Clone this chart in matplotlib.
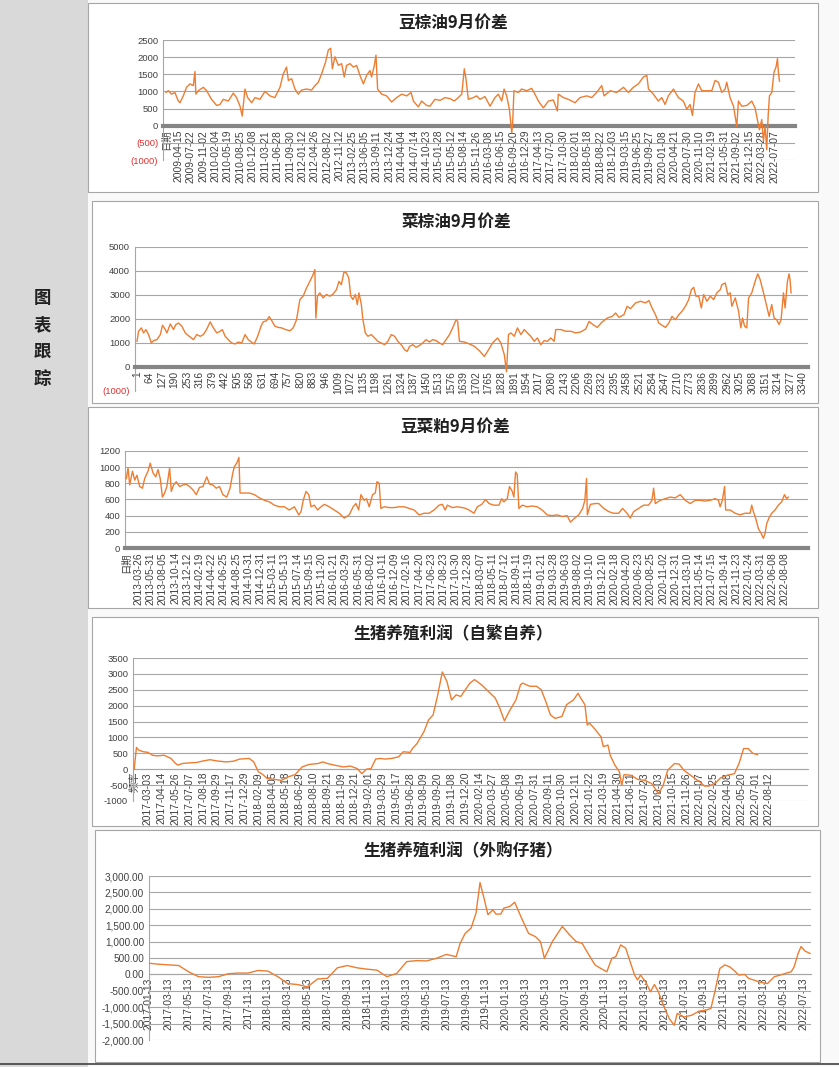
import matplotlib
matplotlib.use("Agg")
import matplotlib.pyplot as plt
from matplotlib.patches import Rectangle
from matplotlib.lines import Line2D

plt.rcParams["font.family"] = ["Liberation Sans", "Noto Sans CJK SC"]

W, H = 839, 1067
ORANGE = "#ed7d31"
GRID = "#a6a6a6"
RED = "#e03030"
CJK = ["Noto Sans CJK SC"]

# ---------------- 豆棕油9月价差 (category index, value)
p1_x = [0, 13, 31, 49, 68, 77, 95, 113, 132, 150, 159, 164, 177, 205, 223, 250, 278, 296, 314, 342,
        369, 387, 406, 418, 433, 448, 470, 488, 515, 543, 570, 597, 625, 643, 661, 671, 689, 707, 725, 744,
        771, 798, 817, 835, 853, 875, 890, 903, 912, 926, 945, 963, 977, 990, 1009, 1027, 1045, 1063, 1082, 1100,
        1118, 1127, 1142, 1151, 1160, 1182, 1209, 1237, 1264, 1292, 1319, 1343, 1356, 1383, 1401, 1429, 1447, 1474, 1502, 1529,
        1557, 1580, 1602, 1621, 1635, 1644, 1657, 1684, 1703, 1721, 1748, 1776, 1803, 1821, 1840, 1853, 1867, 1882, 1895, 1900,
        1907, 1931, 1949, 1977, 2004, 2022, 2041, 2068, 2096, 2123, 2145, 2150, 2178, 2205, 2242, 2269, 2306, 2333, 2360, 2388,
        2401, 2434, 2470, 2507, 2534, 2561, 2589, 2616, 2635, 2644, 2671, 2698, 2717, 2735, 2753, 2781, 2808, 2835, 2854, 2872,
        2885, 2899, 2918, 2936, 2963, 2991, 3009, 3027, 3046, 3064, 3073, 3091, 3110, 3128, 3137, 3155, 3183, 3210, 3228, 3237,
        3252, 3265, 3274, 3283, 3292, 3300, 3307, 3320, 3332, 3343, 3351, 3356, 3362]
p1_y = [970, 1020, 920, 970, 720, 670, 870, 1120, 1220, 1170, 1580, 920, 1020, 1120, 1020, 770, 590, 620, 770, 720,
        950, 820, 570, 280, 1070, 820, 670, 820, 770, 1000, 870, 820, 1120, 1510, 1710, 1320, 1370, 1070, 920, 1040,
        1070, 1040, 1170, 1270, 1510, 1860, 2210, 2260, 1660, 2010, 1760, 1810, 1420, 1760, 1810, 1710, 1760, 1470, 1220, 1470,
        1610, 1420, 1760, 2060, 1070, 920, 870, 690, 820, 920, 870, 970, 720, 550, 720, 590, 570, 770, 740, 820,
        790, 720, 820, 920, 1660, 1370, 770, 820, 870, 770, 850, 570, 820, 920, 720, 1070, 870, 480, -200, 80,
        1020, 970, 1070, 1020, 1090, 920, 720, 520, 720, 750, 430, 920, 820, 770, 670, 820, 870, 820, 970, 1170,
        870, 1020, 970, 1120, 970, 1120, 1220, 1420, 1470, 1070, 920, 720, 820, 620, 870, 1070, 820, 720, 480, 620,
        300, 970, 1220, 1020, 1020, 1020, 1320, 1270, 970, 1070, 1270, 820, 570, -20, 720, 570, 590, 720, 520, 280,
        -120, 180, -450, -20, -700, 300, 870, 970, 1560, 1710, 1960, 1560, 1300]
p1_labels = ["日期", "2009-04-15", "2009-07-22", "2009-11-02", "2010-02-04", "2010-05-19", "2010-08-25",
             "2010-12-08", "2011-03-21", "2011-06-28", "2011-09-30", "2012-01-12", "2012-04-26", "2012-08-02",
             "2012-11-12", "2013-02-25", "2013-06-05", "2013-09-11", "2013-12-24", "2014-04-04", "2014-07-14",
             "2014-10-23", "2015-01-28", "2015-05-12", "2015-08-14", "2015-11-26", "2016-03-08", "2016-06-15",
             "2016-09-20", "2016-12-29", "2017-04-13", "2017-07-20", "2017-10-30", "2018-02-01", "2018-05-18",
             "2018-08-22", "2018-12-03", "2019-03-15", "2019-06-25", "2019-09-27", "2020-01-08", "2020-04-21",
             "2020-07-30", "2020-11-10", "2021-02-19", "2021-05-31", "2021-09-02", "2021-12-15", "2022-03-28",
             "2022-07-07"]
p1_step = 68
p1_yticks = [-1000, -500, 0, 500, 1000, 1500, 2000, 2500]
p1_ylabels = ["(1000)", "(500)", "0", "500", "1000", "1500", "2000", "2500"]

# ---------------- 菜棕油9月价差
p2_x = [0, 8, 22, 33, 45, 58, 72, 83, 100, 117, 128, 142, 150, 167, 183, 195, 208, 225, 242, 262,
        283, 300, 317, 333, 350, 367, 383, 400, 417, 428, 442, 458, 475, 492, 508, 525, 542, 558, 575, 588,
        605, 622, 633, 650, 663, 678, 692, 708, 725, 745, 767, 783, 800, 817, 833, 850, 867, 883, 892, 897,
        905, 917, 933, 950, 967, 983, 1000, 1013, 1025, 1038, 1050, 1062, 1072, 1083, 1095, 1105, 1113, 1125, 1133, 1145,
        1158, 1175, 1192, 1208, 1225, 1242, 1258, 1275, 1292, 1308, 1325, 1342, 1355, 1367, 1383, 1400, 1417, 1433, 1450, 1467,
        1483, 1500, 1517, 1533, 1550, 1567, 1583, 1600, 1608, 1617, 1642, 1667, 1692, 1717, 1742, 1758, 1783, 1808, 1825, 1842,
        1853, 1863, 1875, 1892, 1908, 1925, 1942, 1958, 1975, 1992, 2008, 2025, 2042, 2058, 2075, 2092, 2100, 2125, 2150, 2175,
        2200, 2225, 2250, 2267, 2283, 2308, 2333, 2358, 2383, 2400, 2417, 2442, 2458, 2475, 2500, 2525, 2550, 2567, 2583, 2600,
        2617, 2633, 2650, 2667, 2683, 2700, 2717, 2733, 2750, 2767, 2780, 2792, 2803, 2817, 2830, 2842, 2858, 2875, 2892, 2908,
        2925, 2933, 2950, 2963, 2975, 2983, 3000, 3017, 3028, 3037, 3047, 3058, 3067, 3083, 3100, 3113, 3125, 3142, 3158, 3170,
        3183, 3195, 3208, 3220, 3230, 3242, 3250, 3262, 3270, 3275, 3280]
p2_y = [1070, 1490, 1630, 1420, 1560, 1350, 1000, 1100, 1140, 1350, 1740, 1560, 1420, 1790, 1560, 1770, 1830, 1700, 1420, 1280,
        1140, 1350, 1280, 1350, 1580, 1880, 1630, 1420, 1490, 1560, 1280, 1140, 1000, 960, 1040, 1000, 1350, 1140, 1030, 960,
        1280, 1700, 1880, 1930, 2100, 1900, 1700, 1650, 1630, 1560, 1510, 1630, 1970, 2810, 2950, 3290, 3570, 3850, 4060, 2040,
        2950, 3090, 2880, 3020, 2950, 3040, 3220, 3570, 3430, 3960, 3920, 3710, 2950, 2810, 3020, 2600, 3090, 2600, 1970, 1420,
        1280, 1350, 1210, 1070, 1000, 930, 1070, 1350, 1280, 1070, 930, 720, 650, 860, 930, 820, 900, 1000, 1140, 1040,
        1140, 1100, 1000, 930, 1140, 1350, 1630, 1970, 1900, 1070, 1040, 960, 860, 680, 440, 650, 1000, 1210, 1000, 510,
        -200, 1350, 1420, 1280, 1630, 1350, 1560, 1420, 1280, 1070, 1210, 930, 1100, 1070, 1210, 1070, 1560, 1560, 1490, 1490,
        1420, 1460, 1580, 1900, 1790, 1650, 1880, 2040, 2110, 2250, 2070, 2180, 2530, 2430, 2670, 2740, 2670, 2770, 2460, 2180,
        1830, 1740, 1650, 1830, 2110, 1970, 2180, 2320, 2530, 2810, 3220, 3320, 2950, 2950, 2460, 3020, 2740, 2950, 2810, 3090,
        3220, 3430, 3500, 3020, 3090, 2530, 2880, 2320, 1630, 2040, 1700, 1630, 2880, 3090, 3570, 3880, 3640, 3090, 2530, 2110,
        2600, 2040, 1970, 1770, 1970, 3090, 2460, 3570, 3880, 3640, 3090]
p2_labels = [1, 64, 127, 190, 253, 316, 379, 442, 505, 568, 631, 694, 757, 820, 883, 946, 1009, 1072,
             1135, 1198, 1261, 1324, 1387, 1450, 1513, 1576, 1639, 1702, 1765, 1828, 1891, 1954, 2017, 2080,
             2143, 2206, 2269, 2332, 2395, 2458, 2521, 2584, 2647, 2710, 2773, 2836, 2899, 2962, 3025, 3088,
             3151, 3214, 3277, 3340]
p2_yticks = [-1000, 0, 1000, 2000, 3000, 4000, 5000]
p2_ylabels = ["(1000)", "0", "1000", "2000", "3000", "4000", "5000"]

# ---------------- 豆菜粕9月价差
p3_x = [0, 6, 12, 22, 30, 38, 48, 58, 66, 78, 86, 96, 106, 114, 122, 130, 138, 146, 156, 162,
        170, 180, 192, 204, 216, 228, 240, 252, 264, 276, 290, 300, 312, 324, 336, 348, 362, 374, 384, 390,
        398, 406, 410, 426, 444, 462, 480, 498, 516, 534, 552, 570, 588, 606, 622, 630, 638, 648, 658, 666,
        678, 690, 702, 714, 732, 750, 768, 786, 804, 818, 828, 838, 846, 858, 866, 876, 888, 898, 904, 912,
        918, 930, 948, 966, 984, 1002, 1020, 1038, 1056, 1074, 1092, 1110, 1128, 1140, 1150, 1158, 1176, 1194, 1212, 1224,
        1236, 1254, 1266, 1282, 1296, 1308, 1326, 1344, 1354, 1362, 1374, 1382, 1392, 1398, 1404, 1410, 1416, 1428, 1446, 1464,
        1482, 1500, 1518, 1536, 1554, 1572, 1590, 1602, 1614, 1632, 1646, 1654, 1660, 1663, 1674, 1692, 1704, 1722, 1740, 1758,
        1776, 1790, 1806, 1818, 1830, 1848, 1866, 1884, 1896, 1902, 1908, 1926, 1944, 1962, 1980, 1998, 2016, 2034, 2052, 2070,
        2088, 2106, 2124, 2136, 2142, 2150, 2158, 2162, 2178, 2196, 2214, 2232, 2250, 2256, 2262, 2270, 2280, 2290, 2298, 2304,
        2310, 2318, 2328, 2340, 2352, 2364, 2374, 2382, 2388]
p3_y = [860, 990, 780, 950, 840, 900, 760, 740, 860, 950, 1050, 930, 880, 970, 860, 630, 680, 760, 990, 700,
        780, 820, 760, 780, 790, 760, 720, 660, 750, 760, 880, 790, 780, 740, 760, 660, 630, 740, 930, 1010,
        1050, 1120, 680, 680, 680, 660, 620, 590, 570, 530, 510, 510, 470, 510, 410, 450, 590, 700, 660, 510,
        530, 470, 510, 540, 510, 470, 430, 370, 410, 510, 550, 470, 660, 590, 610, 510, 660, 680, 820, 800,
        490, 510, 500, 500, 510, 510, 490, 470, 410, 430, 430, 470, 530, 540, 470, 530, 500, 510, 500, 490,
        470, 430, 510, 540, 600, 550, 530, 530, 610, 570, 610, 760, 700, 630, 940, 910, 490, 530, 510, 520,
        510, 470, 410, 400, 410, 390, 400, 320, 360, 410, 490, 590, 860, 410, 540, 550, 550, 490, 450, 430,
        430, 490, 430, 370, 450, 490, 530, 530, 590, 740, 550, 590, 610, 630, 620, 660, 590, 550, 590, 590,
        580, 590, 610, 590, 510, 590, 760, 470, 470, 430, 410, 430, 430, 530, 450, 370, 240, 180, 120, 180,
        300, 370, 430, 470, 530, 570, 660, 610, 630]
p3_labels = ["日期", "2013-03-26", "2013-05-31", "2013-08-05", "2013-10-14", "2013-12-12", "2014-02-19",
             "2014-04-22", "2014-06-25", "2014-08-25", "2014-10-31", "2014-12-31", "2015-03-11", "2015-05-13",
             "2015-07-14", "2015-09-15", "2015-11-20", "2016-01-21", "2016-03-29", "2016-05-31", "2016-08-02",
             "2016-10-11", "2016-12-09", "2017-02-16", "2017-04-20", "2017-06-23", "2017-08-23", "2017-10-30",
             "2017-12-28", "2018-03-07", "2018-05-11", "2018-07-12", "2018-09-11", "2018-11-19", "2019-01-21",
             "2019-03-28", "2019-06-03", "2019-08-02", "2019-10-10", "2019-12-10", "2020-02-18", "2020-04-20",
             "2020-06-23", "2020-08-25", "2020-11-02", "2020-12-31", "2021-03-10", "2021-05-14", "2021-07-15",
             "2021-09-14", "2021-11-23", "2022-01-24", "2022-03-31", "2022-06-08", "2022-08-08"]
p3_step = 44
p3_yticks = [0, 200, 400, 600, 800, 1000, 1200]

# ---------------- 生猪养殖利润（自繁自养）, weekly
p4_x = [0, 1, 2, 4, 6, 8, 10, 13, 16, 18, 19, 21, 24, 27, 30, 33, 36, 40, 43, 46,
        50, 52, 54, 56, 58, 61, 64, 67, 70, 73, 76, 80, 82, 84, 87, 91, 94, 97, 99, 101,
        103, 105, 107, 109, 112, 115, 117, 120, 121, 123, 126, 128, 130, 132, 134, 136, 138, 140, 142, 144,
        146, 148, 151, 154, 157, 159, 161, 163, 166, 168, 169, 172, 175, 177, 179, 181, 183, 186, 188, 191,
        193, 194, 196, 197, 198, 200, 203, 204, 206, 207, 209, 211, 212, 213, 216, 219, 222, 225, 228, 230,
        232, 235, 237, 239, 241, 244, 246, 248, 250, 253, 255, 258, 261, 263, 265, 267, 269, 271]
p4_y = [0, 686, 600, 550, 530, 440, 420, 440, 340, 180, 130, 180, 200, 210, 260, 300, 260, 230, 250, 320,
        340, 230, -80, -170, -300, -320, -350, -240, -170, 70, 150, 180, 230, 180, 130, 70, 100, 20, -140, 0,
        20, 320, 340, 320, 340, 390, 550, 530, 650, 810, 1180, 1550, 1710, 2340, 3060, 2760, 2180, 2340, 2290, 2500,
        2710, 2820, 2660, 2450, 2240, 1920, 1520, 1810, 2180, 2660, 2710, 2610, 2610, 2500, 2130, 1710, 1600, 1660, 2030, 2180,
        2390, 2260, 2030, 1390, 1450, 1290, 1020, 710, 760, 440, 130, -80, -510, -170, -190, -320, -350, -450, -770, -510,
        -30, 180, 160, -30, -140, -300, -400, -530, -530, -420, -270, -190, -140, 180, 650, 650, 500, 460]
p4_labels = ["频率", "2017-03-03", "2017-04-14", "2017-05-26", "2017-07-07", "2017-08-18", "2017-09-29",
             "2017-11-17", "2017-12-29", "2018-02-09", "2018-04-05", "2018-05-18", "2018-06-29", "2018-08-10",
             "2018-09-21", "2018-11-09", "2018-12-21", "2019-02-01", "2019-03-29", "2019-05-17", "2019-06-28",
             "2019-08-09", "2019-09-20", "2019-11-08", "2019-12-20", "2020-02-14", "2020-03-27", "2020-05-08",
             "2020-06-19", "2020-07-31", "2020-09-11", "2020-10-30", "2020-12-11", "2021-01-22", "2021-03-19",
             "2021-04-30", "2021-06-11", "2021-07-23", "2021-09-03", "2021-10-15", "2021-11-26", "2022-01-07",
             "2022-02-25", "2022-04-08", "2022-05-20", "2022-07-01", "2022-08-12"]
p4_step = 6
p4_yticks = [-1000, -500, 0, 500, 1000, 1500, 2000, 2500, 3000, 3500]

# ---------------- 生猪养殖利润（外购仔猪）, x in months after 2017-01-13
p5_x = [0, 1, 2, 3, 4, 5, 6, 7, 8, 9, 10, 11, 12, 13, 14, 15, 16, 17, 18, 19,
        20, 21, 22, 23, 24, 25, 26, 27, 28, 29, 30, 31, 31.4, 31.9, 32.5, 33.0, 33.4, 33.8, 34.2, 34.7,
        35.0, 35.5, 35.8, 36.4, 36.9, 37.6, 38.3, 39.0, 39.5, 39.9, 40.7, 41.7, 42.4, 43.1, 43.7, 44.3, 45.0, 45.6, 46.2, 46.7,
        47.1, 47.6, 48.1, 48.6, 49.0, 49.3, 49.6, 50.1, 50.6, 51.0, 51.4, 51.9, 52.5, 53.0, 53.3, 54.0, 54.8, 55.5, 56.2, 56.7,
        57.1, 57.6, 58.1, 58.6, 59.0, 59.5, 60.1, 60.5, 61.0, 61.7, 62.4, 63.1, 63.7, 64.2, 64.8, 65.1, 65.5, 65.8, 66.2, 66.7]
p5_y = [340, 310, 290, 270, 80, -70, -90, -70, 20, 40, 40, 120, 100, -70, -280, -310, -380, -140, -120, 200,
        270, 200, 160, 130, -70, 30, 390, 420, 410, 490, 610, 540, 950, 1250, 1410, 1870, 2800, 2330, 1820, 1970,
        1840, 1840, 2020, 2070, 2200, 1710, 1250, 1150, 1000, 490, 1000, 1460, 1220, 1000, 950, 640, 290, 180, 80, 490,
        540, 900, 800, 340, -20, -170, -20, -220, -530, -310, -530, -940, -1350, -1550, -1190, -1300, -1240, -1120, -1090, -1040,
        -530, 180, 290, 230, 130, -20, 0, -120, -170, -240, -280, -70, -20, 30, 80, 230, 640, 850, 710, 640]
p5_labels = ["2017-01-13", "2017-03-13", "2017-05-13", "2017-07-13", "2017-09-13", "2017-11-13",
             "2018-01-13", "2018-03-13", "2018-05-13", "2018-07-13", "2018-09-13", "2018-11-13",
             "2019-01-13", "2019-03-13", "2019-05-13", "2019-07-13", "2019-09-13", "2019-11-13",
             "2020-01-13", "2020-03-13", "2020-05-13", "2020-07-13", "2020-09-13", "2020-11-13",
             "2021-01-13", "2021-03-13", "2021-05-13", "2021-07-13", "2021-09-13", "2021-11-13",
             "2022-01-13", "2022-03-13", "2022-05-13", "2022-07-13"]
p5_step = 2
p5_yticks = [-2000, -1500, -1000, -500, 0, 500, 1000, 1500, 2000, 2500, 3000]
p5_ylabels = ["-2,000.00", "-1,500.00", "-1,000.00", "-500.00", "0.00", "500.00", "1,000.00",
              "1,500.00", "2,000.00", "2,500.00", "3,000.00"]

titles = ["豆棕油9月价差", "菜棕油9月价差", "豆菜粕9月价差", "生猪养殖利润（自繁自养）", "生猪养殖利润（外购仔猪）"]


fig = plt.figure(figsize=(W / 100, H / 100), dpi=100)
fig.patch.set_facecolor("#f9f9f9")


def fig_rect(x0, y0, x1, y1, fc, ec="none", lw=0.8, z=-10):
    fig.add_artist(Rectangle((x0 / W, 1 - y1 / H), (x1 - x0) / W, (y1 - y0) / H,
                             transform=fig.transFigure, facecolor=fc, edgecolor=ec, lw=lw, zorder=z))


def make_axes(x0, y0, x1, y1):
    ax = fig.add_axes([x0 / W, 1 - y1 / H, (x1 - x0) / W, (y1 - y0) / H])
    ax.patch.set_alpha(0)
    return ax


def style(ax, band_lw, band_color, xpad, ysize=6.8):
    ax.grid(axis="y", color=GRID, lw=0.8)
    ax.set_axisbelow(True)
    ax.spines["top"].set_visible(False)
    ax.spines["right"].set_visible(False)
    ax.spines["left"].set_color(GRID)
    ax.spines["left"].set_linewidth(0.8)
    ax.spines["bottom"].set_position(("data", 0))
    ax.spines["bottom"].set_color(band_color)
    ax.spines["bottom"].set_linewidth(band_lw)
    ax.tick_params(length=0, labelsize=ysize, colors="#404040")
    ax.tick_params(axis="x", pad=xpad, labelsize=7.4, labelrotation=90)
    for lab in ax.get_yticklabels():
        if lab.get_text().startswith("("):
            lab.set_color(RED)


# left strip and panel frames
fig_rect(0, 0, 88, H, "#d9d9d9", z=-20)
fig_rect(88, 3, 818, 192, "white", "#a6a6a6")
fig_rect(92, 201, 818, 403, "white", "#a6a6a6")
fig_rect(88, 407, 818, 608, "white", "#a6a6a6")
fig_rect(92, 617, 818, 826, "white", "#a6a6a6")
fig_rect(95, 830, 820, 1062, "white", "#a6a6a6")
fig.add_artist(Line2D([0, 1], [1 - 1064 / H, 1 - 1064 / H], transform=fig.transFigure, color="#404040", lw=1.2))

for i, ch in enumerate("图表跟踪"):
    fig.text(42 / W, 1 - (298 + 27 * i) / H, ch, ha="center", va="center", fontsize=12.5,
             fontweight="bold", family=CJK, color="#202020")

title_pos = [(453, 23), (456, 222), (455, 427), (453, 634), (463, 851)]
for t, (tx, ty) in zip(titles, title_pos):
    fig.text(tx / W, 1 - ty / H, t, ha="center", va="center", fontsize=12, fontweight="bold",
             family=CJK, color="#202020")

# panel 1
ax1 = make_axes(163, 40, 795, 160)
ax1.plot(p1_x, p1_y, color=ORANGE, lw=1.0, zorder=3)
ax1.set_xlim(-16, 3447)
ax1.set_ylim(-1000, 2500)
ax1.set_yticks(p1_yticks, labels=p1_ylabels)
ax1.set_xticks([i * p1_step for i in range(len(p1_labels))], labels=p1_labels)
style(ax1, 3.0, "#858585", 3)

# panel 2
ax2 = make_axes(135, 247, 808, 391)
ax2.plot(p2_x, p2_y, color=ORANGE, lw=1.0, zorder=3)
ax2.set_xlim(-10, 3365)
ax2.set_ylim(-1000, 5000)
ax2.set_yticks(p2_yticks, labels=p2_ylabels)
ax2.set_xticks([v - 1 for v in p2_labels], labels=[str(v) for v in p2_labels])
style(ax2, 3.0, "#858585", 3)

# panel 3
ax3 = make_axes(125, 451, 808, 548)
ax3.plot(p3_x, p3_y, color=ORANGE, lw=1.0, zorder=3)
ax3.set_xlim(-5, 2459)
ax3.set_ylim(0, 1200)
ax3.set_yticks(p3_yticks, labels=[str(v) for v in p3_yticks])
ax3.set_xticks([i * p3_step for i in range(len(p3_labels))], labels=p3_labels)
style(ax3, 3.0, "#858585", 3)

# panel 4
ax4 = make_axes(133, 658, 808, 801)
ax4.plot(p4_x, p4_y, color=ORANGE, lw=1.0, zorder=3)
ax4.set_xlim(-0.5, 293)
ax4.set_ylim(-1000, 3500)
ax4.set_yticks(p4_yticks, labels=[str(v) for v in p4_yticks])
ax4.set_xticks([i * p4_step for i in range(len(p4_labels))], labels=p4_labels)
style(ax4, 0.8, GRID, 2)

# panel 5
ax5 = make_axes(149, 876, 811, 1040)
ax5.plot(p5_x, p5_y, color=ORANGE, lw=1.0, zorder=3)
ax5.set_xlim(0, 66.8)
ax5.set_ylim(-2000, 3000)
ax5.set_yticks(p5_yticks, labels=p5_ylabels)
ax5.set_xticks([i * p5_step for i in range(len(p5_labels))], labels=p5_labels)
style(ax5, 0.8, GRID, 2, ysize=7.2)

fig.savefig("out.png", dpi=100, facecolor=fig.get_facecolor())
